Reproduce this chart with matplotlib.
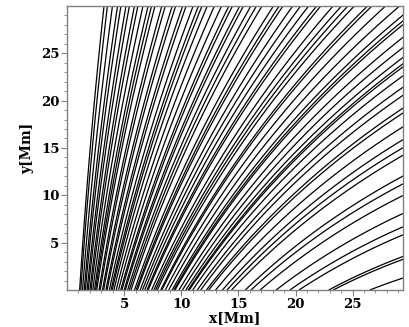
import numpy as np
import matplotlib
matplotlib.use('Agg')
import matplotlib.pyplot as plt

# footpoints of the field lines on the lower boundary (x in Mm, at y = 0)
footpoints = [1.1, 1.2, 1.35, 1.5, 1.6, 1.75, 1.85, 2.0, 2.1, 2.25, 2.4, 2.5,
              2.6, 2.8, 2.9, 3.1, 3.2, 3.4, 3.5, 3.7, 3.85, 3.95, 4.1, 4.3,
              4.5, 4.7, 4.8, 5.0, 5.1, 5.3, 5.45, 5.6, 5.9, 6.05, 6.15, 6.4,
              6.6, 6.8, 7.0, 7.1, 7.4, 7.6, 7.75, 7.9, 8.2, 8.3, 8.6, 8.9,
              9.2, 9.35, 9.45, 9.8, 10.1, 10.4, 10.6, 10.7, 11.0, 11.4, 11.7,
              12.2, 12.4, 13.0, 13.6, 14.0, 14.4, 15.6, 16.1, 16.9, 18.3, 19.5,
              20.3, 22.9, 23.3, 26.5]
# depth of the line-dipole source below the surface (Mm)
depth = 42.0

xticks = [5, 10, 15, 20, 25]
yticks = [5, 10, 15, 20, 25]

# flux function of a 2D vertical dipole at (0, -depth)
x = np.linspace(0, 30, 900)
y = np.linspace(0, 30, 900)
X, Y = np.meshgrid(x, y)
A = X / (X**2 + (Y + depth)**2)
fp = np.array(footpoints)
levels = np.sort(fp / (fp**2 + depth**2))

fig = plt.figure(figsize=(4.09, 3.27), dpi=100)
ax = fig.add_axes([0.164, 0.113, 0.821, 0.869])
ax.contour(X, Y, A, levels=levels, colors='black', linewidths=0.9)

ax.set_xlim(0, 29.4)
ax.set_ylim(0, 30)
ax.set_xticks(xticks)
ax.set_yticks(yticks)
ax.set_xticks(np.arange(1, 30), minor=True)
ax.set_yticks(np.arange(1, 30), minor=True)
ax.tick_params(which='major', direction='out', length=4, color='gray', width=0.8)
ax.tick_params(which='minor', direction='out', length=2.5, color='gray', width=0.6)
for lab in ax.get_xticklabels() + ax.get_yticklabels():
    lab.set_family('DejaVu Serif')
    lab.set_fontweight('bold')
    lab.set_fontsize(9.5)
ax.tick_params(pad=1.5)
for s in ax.spines.values():
    s.set_color('gray')
    s.set_linewidth(1.0)

ax.set_xlabel('x[Mm]', family='DejaVu Serif', fontweight='bold', fontsize=10, labelpad=0)
ax.set_ylabel('y[Mm]', family='DejaVu Serif', fontweight='bold', fontsize=10, labelpad=5)

fig.savefig('out.png', dpi=100)
